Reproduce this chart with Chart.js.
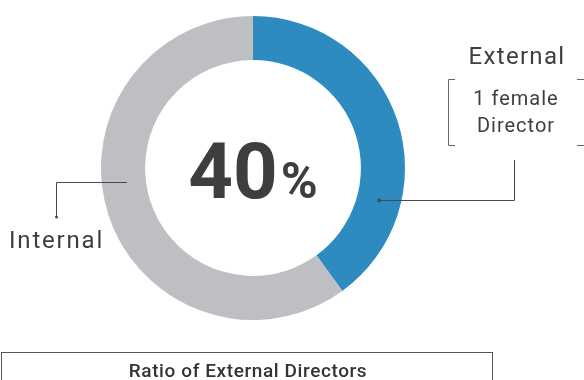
<!DOCTYPE html>
<html>
<head>
<meta charset="utf-8">
<script src="https://cdn.jsdelivr.net/npm/chart.js@4"></script>
<style>
	html, body { margin: 0; padding: 0; background: #fff; }
	#wrap { width: 584px; height: 380px; position: relative; }
</style>
</head>
<body>
<div id="wrap"><canvas id="ratioChart" width="584" height="380"></canvas></div>
<script>
const categories = ['External', 'Internal'];
const directorShares = [40, 60];
const sliceColors = ['#2e8bc0', '#bebfc3'];
const chartTitle = 'Ratio of External Directors';
const externalNote = ['1 female', 'Director'];

const textColor = '#3e3e3e';
const lineColor = '#4a4a4a';

// leader lines, labels, center value and caption box
const annotatePlugin = {
	id: 'annotate',
	afterDraw(chart) {
		const ctx = chart.ctx;
		const arc = chart.getDatasetMeta(0).data[0];
		const cx = arc.x, cy = arc.y;
		const midR = (arc.innerRadius + arc.outerRadius) / 2;
		const total = directorShares.reduce((a, b) => a + b, 0);
		const pct = Math.round(directorShares[0] / total * 100);

		ctx.save();
		ctx.fillStyle = textColor;
		ctx.textBaseline = 'alphabetic';

		// center value
		ctx.font = 'bold 78px Roboto';
		const numW = ctx.measureText(String(pct)).width;
		ctx.font = 'bold 50px Roboto';
		const pW = ctx.measureText('%').width;
		const gap = 3;
		const startX = cx - (numW + gap + pW) / 2;
		ctx.textAlign = 'left';
		ctx.font = 'bold 78px Roboto';
		ctx.fillText(String(pct), startX, cy + 30);
		ctx.font = 'bold 50px Roboto';
		ctx.fillText('%', startX + numW + gap, cy + 30);

		// external leader
		ctx.strokeStyle = lineColor;
		ctx.lineWidth = 1;
		const ex = cx + midR * Math.cos(0.245), ey = cy + midR * Math.sin(0.245);
		ctx.beginPath();
		ctx.moveTo(ex, Math.round(ey) + 0.5);
		ctx.lineTo(514.5, Math.round(ey) + 0.5);
		ctx.lineTo(514.5, 160);
		ctx.stroke();
		ctx.beginPath();
		ctx.arc(ex, Math.round(ey) + 0.5, 2, 0, Math.PI * 2);
		ctx.fillStyle = lineColor;
		ctx.fill();

		// internal leader
		const ix = cx - (midR - 3) * Math.cos(0.11), iy = cy + midR * Math.sin(0.11);
		ctx.beginPath();
		ctx.moveTo(ix, Math.round(iy) + 0.5);
		ctx.lineTo(56.5, Math.round(iy) + 0.5);
		ctx.lineTo(56.5, 217);
		ctx.stroke();
		ctx.beginPath();
		ctx.arc(56.5, 217, 1.5, 0, Math.PI * 2);
		ctx.fill();

		// bracket around note
		ctx.strokeStyle = '#666';
		ctx.beginPath();
		ctx.moveTo(455, 79.5);
		ctx.lineTo(448.5, 79.5);
		ctx.lineTo(448.5, 145.5);
		ctx.lineTo(455, 145.5);
		ctx.moveTo(577, 79.5);
		ctx.lineTo(585.5, 79.5);
		ctx.lineTo(585.5, 145.5);
		ctx.lineTo(577, 145.5);
		ctx.stroke();

		// labels
		ctx.fillStyle = textColor;
		ctx.textAlign = 'center';
		ctx.font = '24px Roboto';
		ctx.letterSpacing = '1.3px';
		ctx.fillText(categories[0], 517, 64);
		ctx.font = '20px Roboto';
		ctx.letterSpacing = '1px';
		ctx.fillText(externalNote[0], 516, 105);
		ctx.fillText(externalNote[1], 516, 132);
		ctx.textAlign = 'left';
		ctx.font = '24px Roboto';
		ctx.letterSpacing = '1.8px';
		ctx.fillText(categories[1], 9, 248);

		// caption box
		ctx.strokeStyle = '#555';
		ctx.strokeRect(1.5, 352.5, 491, 40);
		ctx.font = '500 19px Roboto';
		ctx.letterSpacing = '0.6px';
		ctx.textAlign = 'center';
		ctx.fillStyle = '#333';
		ctx.fillText(chartTitle, 248, 377);
		ctx.restore();
	}
};

new Chart(document.getElementById('ratioChart'), {
	type: 'doughnut',
	data: {
		labels: categories,
		datasets: [{
			data: directorShares,
			backgroundColor: sliceColors,
			borderWidth: 0
		}]
	},
	options: {
		responsive: false,
		animation: false,
		cutout: '71%',
		layout: {
			padding: { top: 16, bottom: 60, left: 101, right: 179 }
		},
		plugins: {
			legend: { display: false },
			tooltip: { enabled: false }
		}
	},
	plugins: [annotatePlugin]
});
</script>
</body>
</html>
